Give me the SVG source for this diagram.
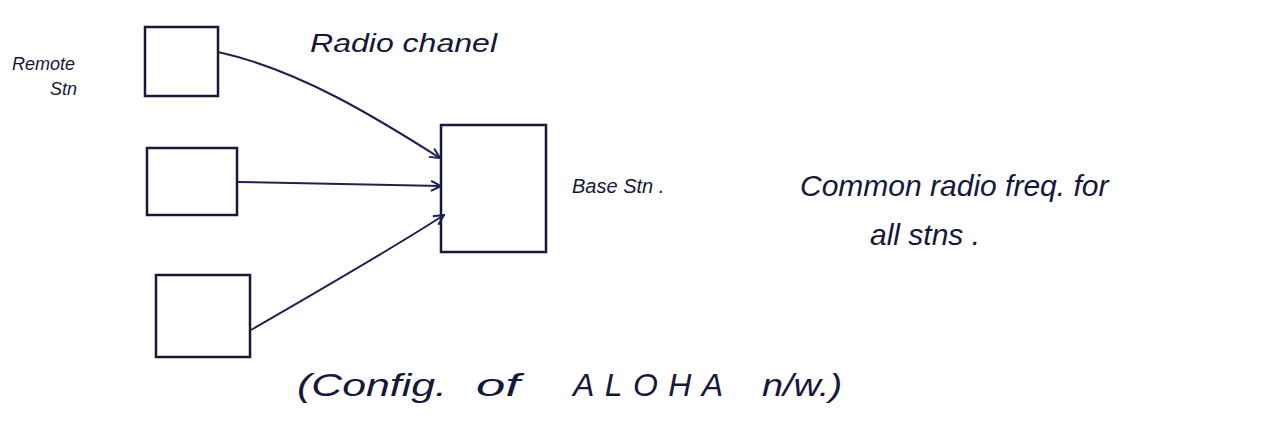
<svg xmlns="http://www.w3.org/2000/svg" width="1287" height="429" viewBox="0 0 1287 429">
<style>
.box{fill:none;stroke:#15183a;stroke-width:2.5}
.conn{fill:none;stroke:#1b2256;stroke-width:2}
.t{font-family:"Liberation Sans",Arial,sans-serif;fill:#15183a;font-style:italic}
</style>
<defs>
<marker id="arr" viewBox="0 0 12 12" refX="11" refY="6" markerWidth="12" markerHeight="12" markerUnits="userSpaceOnUse" orient="auto">
<path d="M1,1 L11,6 L1,11" fill="none" stroke="#1b2256" stroke-width="2"/>
</marker>
</defs>
<rect width="1287" height="429" fill="#ffffff"/>
<g id="remote1"><rect class="box" x="145" y="27" width="73" height="69"/></g>
<g id="remote2"><rect class="box" x="147" y="148" width="90" height="67"/></g>
<g id="remote3"><rect class="box" x="156" y="275" width="94" height="82"/></g>
<g id="base"><rect class="box" x="441" y="125" width="105" height="127"/></g>
<g id="connectors">
<path class="conn" d="M218,52 C300,70 380,120 440,158" marker-end="url(#arr)"/>
<path class="conn" d="M237,182 L441,186" marker-end="url(#arr)"/>
<path class="conn" d="M251,330 C320,290 390,250 444,215" marker-end="url(#arr)"/>
</g>
<g id="labels">
<text class="t" x="12" y="70" font-size="18">Remote</text>
<text class="t" x="50" y="95" font-size="18">Stn</text>
<text class="t" x="310" y="52" font-size="25" textLength="187" lengthAdjust="spacingAndGlyphs">Radio chanel</text>
<text class="t" x="572" y="193" font-size="20">Base Stn .</text>
<text class="t" x="800" y="196" font-size="30">Common radio freq. for</text>
<text class="t" x="870" y="245" font-size="30">all stns .</text>
<g id="caption">
<text class="t" x="297" y="396" font-size="32" textLength="150" lengthAdjust="spacingAndGlyphs">(Config.</text>
<text class="t" x="476" y="396" font-size="32" textLength="44" lengthAdjust="spacingAndGlyphs">of</text>
<text class="t" x="573" y="396" font-size="32" textLength="150" lengthAdjust="spacing">ALOHA</text>
<text class="t" x="762" y="396" font-size="32" textLength="80" lengthAdjust="spacingAndGlyphs">n/w.)</text>
</g>
</g>
</svg>
